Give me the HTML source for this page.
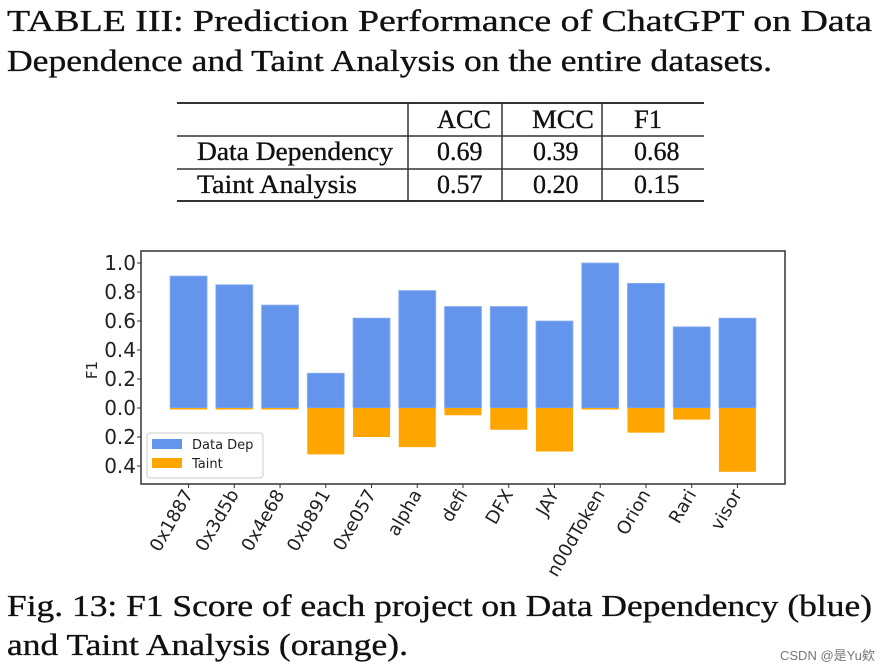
<!DOCTYPE html>
<html><head><meta charset="utf-8"><style>
html,body{margin:0;padding:0;background:#fff;}
svg{display:block;}
.serif{font-family:"Liberation Serif",serif;fill:#111;stroke:#111;stroke-width:0.35;}
.sans{font-family:"DejaVu Sans","Liberation Sans",sans-serif;fill:#222;}
</style></head><body>
<svg id="fig" width="890" height="671" viewBox="0 0 890 671">
  <g>
    <text class="serif" x="7" y="31" font-size="31" textLength="865" lengthAdjust="spacingAndGlyphs">TABLE III: Prediction Performance of ChatGPT on Data</text>
    <text class="serif" x="7" y="71" font-size="31" textLength="765" lengthAdjust="spacingAndGlyphs">Dependence and Taint Analysis on the entire datasets.</text>
  </g>
  <g stroke="#333">
    <line x1="177" y1="103" x2="704" y2="103" stroke-width="2"/>
    <line x1="177" y1="136" x2="704" y2="136" stroke-width="1.5"/>
    <line x1="177" y1="169" x2="704" y2="169" stroke-width="1.5"/>
    <line x1="177" y1="201" x2="704" y2="201" stroke-width="2"/>
    <line x1="408" y1="103" x2="408" y2="201" stroke-width="1.5"/>
    <line x1="502" y1="103" x2="502" y2="201" stroke-width="1.5"/>
    <line x1="602" y1="103" x2="602" y2="201" stroke-width="1.5"/>
  </g>
  <g class="serif" font-size="26">
    <text x="437" y="128" textLength="54" lengthAdjust="spacingAndGlyphs">ACC</text>
    <text x="532" y="128" textLength="62" lengthAdjust="spacingAndGlyphs">MCC</text>
    <text x="634" y="128" textLength="28" lengthAdjust="spacingAndGlyphs">F1</text>
    <text x="197" y="160" textLength="196" lengthAdjust="spacingAndGlyphs">Data Dependency</text>
    <text x="437" y="160">0.69</text>
    <text x="533" y="160">0.39</text>
    <text x="634" y="160">0.68</text>
    <text x="197" y="193" textLength="160" lengthAdjust="spacingAndGlyphs">Taint Analysis</text>
    <text x="437" y="193">0.57</text>
    <text x="533" y="193">0.20</text>
    <text x="634" y="193">0.15</text>
  </g>
  <g id="chart"></g>
  <g>
    <text class="serif" x="7" y="616" font-size="31" textLength="865" lengthAdjust="spacingAndGlyphs">Fig. 13: F1 Score of each project on Data Dependency (blue)</text>
    <text class="serif" x="7" y="655" font-size="31" textLength="401" lengthAdjust="spacingAndGlyphs">and Taint Analysis (orange).</text>
  </g>
  <text x="780" y="660" font-size="13" fill="#777" font-family="'Liberation Sans','Noto Sans CJK SC',sans-serif">CSDN @是Yu欸</text>
</svg>
<script>
const categories = ["0x1887","0x3d5b","0x4e68","0xb891","0xe057","alpha","defi","DFX","JAY","n00dToken","Orion","Rari","visor"];
const dataDep = [0.91,0.85,0.71,0.24,0.62,0.81,0.70,0.70,0.60,1.00,0.86,0.56,0.62];
const taint = [0.005,0.005,0.005,0.32,0.20,0.27,0.05,0.15,0.30,0.005,0.17,0.08,0.44];
const yTicks = [1.0,0.8,0.6,0.4,0.2,0.0,-0.2,-0.4];
const yTickLabels = ["1.0","0.8","0.6","0.4","0.2","0.0","0.2","0.4"];

const NS = "http://www.w3.org/2000/svg";
const g = document.getElementById("chart");
const L = 141, R = 785, T = 251, B = 484;
const zeroY = 408, unit = 145;
const y = v => zeroY - v * unit;
const step = (R - L) / (categories.length + 1.08);
const x = i => L + step * 1.04 + i * step;
const bw = 37;
function mk(tag, attrs, parent) {
  const e = document.createElementNS(NS, tag);
  for (const k in attrs) e.setAttribute(k, attrs[k]);
  (parent || g).appendChild(e);
  return e;
}
categories.forEach((c, i) => {
  const cx = x(i);
  const b = mk("rect", {x: cx - bw/2, y: y(dataDep[i]), width: bw, height: y(0) - y(dataDep[i]), fill: "#6495ed", stroke: "#8fb2f2", "stroke-width": 0.8});
  
  
  const t = mk("rect", {x: cx - bw/2, y: y(0), width: bw, height: Math.max(1.5, taint[i] * unit), fill: "#ffa500"});
  
  
  const tk = mk("line", {x1: cx, y1: B, x2: cx, y2: B + 4, stroke: "#333", "stroke-width": 1});
  
  
  const lb = mk("text", {x: cx + 5, y: B + 10, "font-size": 18, "text-anchor": "end", "class": "sans", transform: `rotate(-60 ${cx + 5} ${B + 10})`});
  lb.textContent = c;
  
  
});
yTicks.forEach((v, i) => {
  const tk = mk("line", {x1: L - 4, y1: y(v), x2: L, y2: y(v), stroke: "#333", "stroke-width": 1});
  
  
  const lb = mk("text", {x: L - 5, y: y(v) + 7, "font-size": 20, "text-anchor": "end", "class": "sans"});
  lb.textContent = yTickLabels[i];
  
  
});
const frame = mk("rect", {x: L, y: T, width: R - L, height: B - T, fill: "none", stroke: "#333", "stroke-width": 1.5});


const yt = mk("text", {x: 97, y: 370, "font-size": 15, "text-anchor": "middle", "class": "sans", transform: "rotate(-90 97 370)"});
yt.textContent = "F1";


const lg = mk("g", {});


mk("rect", {x: 147, y: 433, width: 116, height: 45, rx: 3, fill: "#fff", "fill-opacity": 0.85, stroke: "#ccc", "stroke-width": 1}, lg);
const p1 = mk("rect", {x: 152, y: 439, width: 30, height: 10, fill: "#6495ed"}, lg);


const t1 = mk("text", {x: 192, y: 449, "font-size": 13, "class": "sans"}, lg);
t1.textContent = "Data Dep";


const p2 = mk("rect", {x: 152, y: 458, width: 30, height: 10, fill: "#ffa500"}, lg);


const t2 = mk("text", {x: 192, y: 468, "font-size": 13, "class": "sans"}, lg);
t2.textContent = "Taint";


</script>
</body></html>
